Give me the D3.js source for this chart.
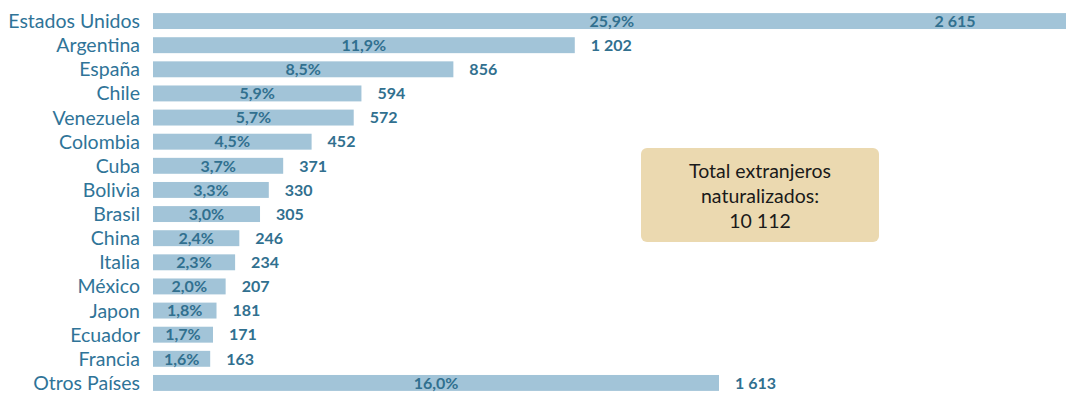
<!DOCTYPE html>
<html><head><meta charset="utf-8">
<script src="https://cdn.jsdelivr.net/npm/d3@7/dist/d3.min.js"></script>
<style>body{margin:0;background:#fff}svg{display:block}</style>
</head><body><svg id="c" width="1066" height="394"></svg>
<script>
const categories = ["Estados Unidos","Argentina","España","Chile","Venezuela","Colombia","Cuba","Bolivia","Brasil","China","Italia","México","Japon","Ecuador","Francia","Otros Países"];
const values = [2615,1202,856,594,572,452,371,330,305,246,234,207,181,171,163,1613];
const percents = ["25,9%","11,9%","8,5%","5,9%","5,7%","4,5%","3,7%","3,3%","3,0%","2,4%","2,3%","2,0%","1,8%","1,7%","1,6%","16,0%"];
const boxLines = ["Total extranjeros","naturalizados:","10 112"];

const W = 1066, H = 394;
const svg = d3.select("#c");
const font = "Lato, 'Open Sans', sans-serif";
const x = d3.scaleLinear().domain([0, 1613]).range([153, 719]);
const y = d3.scaleBand().domain(categories).range([9, 395]).paddingInner(0.34).paddingOuter(0.17);
const fmt = v => d3.format(",")(v).replace(/,/g, " ");

const g = svg.append("g");
const rows = g.selectAll("g.row").data(categories).join("g").attr("class","row");

rows.append("rect")
  .attr("x", x(0))
  .attr("y", d => y(d))
  .attr("height", y.bandwidth())
  .attr("width", (d,i) => Math.min(x(values[i]), W) - x(0))
  .attr("fill", "#a2c4d8");

rows.append("text")
  .attr("x", x(0) - 13)
  .attr("y", d => y(d) + y.bandwidth()/2)
  .attr("dy", "0.36em")
  .attr("text-anchor", "end")
  .attr("font-family", font)
  .attr("font-size", 19.5)
  .attr("fill", "#2f7498")
  .text(d => d);

rows.append("text")
  .attr("x", (d,i) => (x(0) + x(values[i]))/2)
  .attr("y", d => y(d) + y.bandwidth()/2)
  .attr("dy", "0.36em")
  .attr("text-anchor", "middle")
  .attr("font-family", font)
  .attr("font-weight", "bold")
  .attr("font-size", 16)
  .attr("fill", "#31708f")
  .text((d,i) => percents[i]);

rows.append("text")
  .attr("x", (d,i) => x(values[i]) > W ? x(values[i]) - 95 : x(values[i]) + 16)
  .attr("y", d => y(d) + y.bandwidth()/2)
  .attr("dy", "0.36em")
  .attr("text-anchor", (d,i) => x(values[i]) > W ? "end" : "start")
  .attr("font-family", font)
  .attr("font-weight", "bold")
  .attr("font-size", 16)
  .attr("fill", "#31708f")
  .text((d,i) => fmt(values[i]));

const box = svg.append("g");
box.append("rect").attr("x", 641).attr("y", 148).attr("width", 238).attr("height", 94)
  .attr("rx", 6).attr("fill", "#ebd9b0");
box.selectAll("text").data(boxLines).join("text")
  .attr("x", 760).attr("y", (d,i) => 171 + i*25)
  .attr("dy", "0.36em").attr("text-anchor", "middle")
  .attr("font-family", font).attr("font-size", 19.5).attr("fill", "#1a1a1a")
  .text(d => d);
</script></body></html>
